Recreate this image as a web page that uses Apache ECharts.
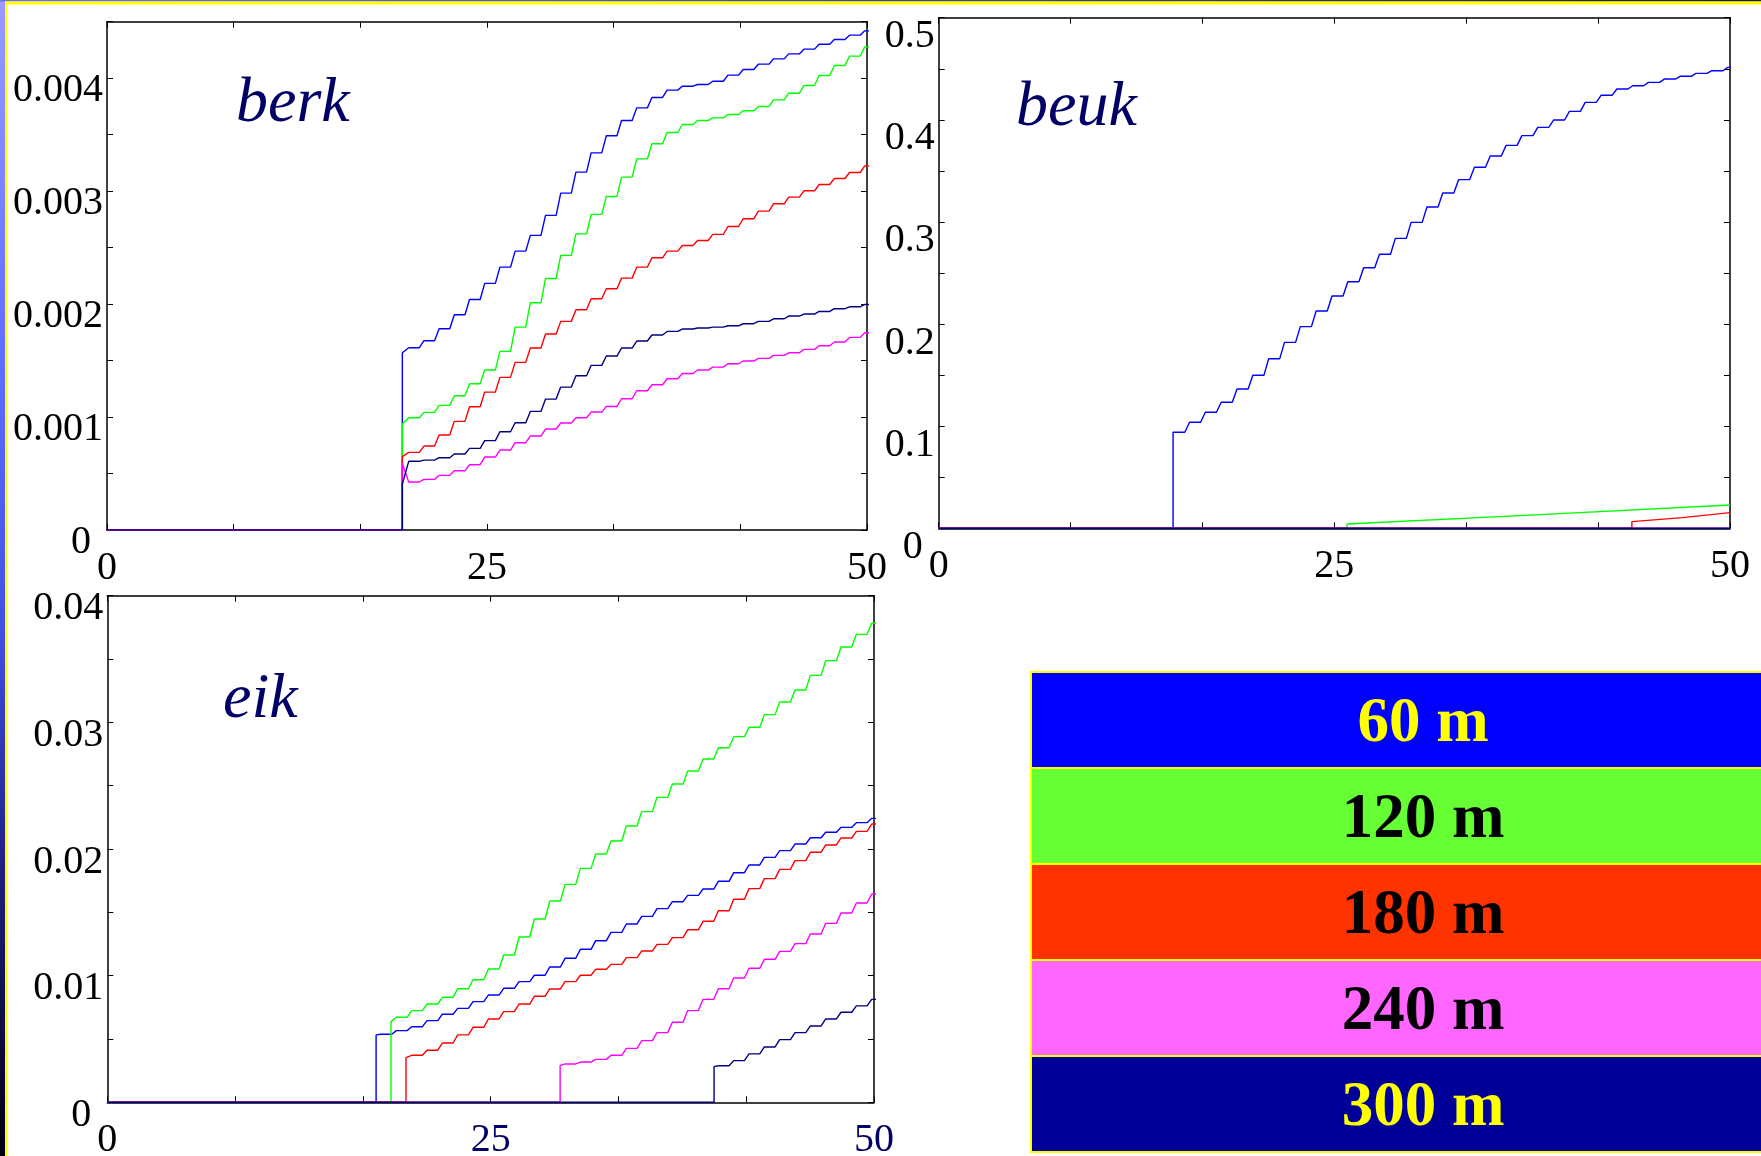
<!DOCTYPE html>
<html><head><meta charset="utf-8">
<script src="https://cdn.jsdelivr.net/npm/echarts/dist/echarts.min.js"></script>
<style>html,body{margin:0;padding:0;background:#fff;}#c{width:1761px;height:1156px;}</style>
</head><body><div id="c"></div>
<script>
// ---------- DATA ----------
const seriesNames = ['60 m', '120 m', '180 m', '240 m', '300 m'];
const lineColors = ['#0000ff', '#00ff00', '#ff0000', '#ff00ff', '#000080'];
const legendFills = ['#0000ff', '#66ff33', '#ff3300', '#ff66ff', '#000099'];
const legendTextColors = ['#ffff00', '#000000', '#000000', '#000000', '#ffff00'];
const panelNames = ['berk', 'beuk', 'eik'];
const xTickLabels = [0, 25, 50];

// berk: yearly levels, years 20..50
const berkFirstYear = [20, 20, 20, 20, 20];
const berkJumpX = [19.43, 19.43, 19.43, 19.43, 19.43];
const berkJumpTop = [0.001569, 0.000938, 0.000649, 0.000590, 0.000407];
const berk60 = [0.001614,0.001676,0.001782,0.001906,0.002041,0.002183,0.002327,0.002469,0.002608,0.002785,0.002982,0.003168,0.003339,0.003490,0.003625,0.003737,0.003829,0.003894,0.003929,0.003944,0.003973,0.004027,0.004077,0.004124,0.004171,0.004215,0.004257,0.004301,0.004342,0.004381,0.004419];
const berk120 = [0.000994,0.001041,0.001103,0.001189,0.001295,0.001416,0.001581,0.001796,0.002012,0.002227,0.002431,0.002622,0.002794,0.002953,0.003124,0.003286,0.003419,0.003519,0.003590,0.003625,0.003649,0.003678,0.003711,0.003749,0.003808,0.003867,0.003935,0.004024,0.004112,0.004195,0.004277];
const berk180 = [0.000687,0.000743,0.000841,0.000962,0.001091,0.001221,0.001351,0.001484,0.001611,0.001735,0.001847,0.001950,0.002047,0.002136,0.002230,0.002327,0.002410,0.002469,0.002519,0.002563,0.002617,0.002687,0.002755,0.002823,0.002888,0.002947,0.003003,0.003059,0.003112,0.003165,0.003224];
const berk240 = [0.000425,0.000448,0.000484,0.000525,0.000578,0.000646,0.000708,0.000773,0.000832,0.000894,0.000947,0.000994,0.001044,0.001094,0.001162,0.001233,0.001286,0.001339,0.001386,0.001416,0.001442,0.001472,0.001496,0.001519,0.001546,0.001569,0.001599,0.001631,0.001664,0.001705,0.001746];
const berk300 = [0.000608,0.000619,0.000640,0.000673,0.000723,0.000791,0.000870,0.000950,0.001050,0.001159,0.001265,0.001366,0.001457,0.001540,0.001611,0.001673,0.001726,0.001758,0.001779,0.001788,0.001796,0.001808,0.001826,0.001847,0.001870,0.001894,0.001912,0.001935,0.001959,0.001976,0.001997];

// beuk: 60 m yearly levels, years 15..50; 120 m / 180 m nearly straight lines
const beukFirstYear60 = 15;
const beukJumpX60 = 14.81;
const beuk60 = [0.0940,0.1038,0.1136,0.1234,0.1364,0.1498,0.1661,0.1821,0.1975,0.2128,0.2275,0.2415,0.2552,0.2683,0.2839,0.2996,0.3146,0.3283,0.3414,0.3535,0.3646,0.3750,0.3845,0.3926,0.3998,0.4083,0.4171,0.4240,0.4302,0.4334,0.4367,0.4399,0.4426,0.4455,0.4481,0.4514];
const beuk120X = [25.8, 38, 50];
const beuk120Y = [0.0042, 0.0134, 0.0228];
const beuk180X = [43.8, 47, 50];
const beuk180Y = [0.0065, 0.0105, 0.0153];
const beuk240X = [50];
const beuk240Y = [0];
const beuk300X = [50];
const beuk300Y = [0];

// eik: yearly levels
const eikFirstYear = [18, 19, 20, 30, 40];
const eikJumpX = [17.53, 18.5, 19.48, 29.53, 39.57];
const eikJumpTop = [0.00532, 0.00637, 0.00353, 0.00289, 0.00282];
const eik60 = [0.00537,0.00566,0.00597,0.00645,0.00695,0.00742,0.00795,0.00847,0.00900,0.00953,0.01003,0.01068,0.01137,0.01208,0.01276,0.01342,0.01408,0.01468,0.01529,0.01584,0.01634,0.01684,0.01745,0.01813,0.01874,0.01934,0.01987,0.02039,0.02089,0.02132,0.02171,0.02208,0.02242];
const eik120 = [0.00671,0.00724,0.00776,0.00829,0.00897,0.00968,0.01053,0.01163,0.01305,0.01447,0.01589,0.01721,0.01847,0.01961,0.02063,0.02182,0.02295,0.02408,0.02513,0.02616,0.02711,0.02800,0.02887,0.02961,0.03061,0.03161,0.03255,0.03371,0.03487,0.03595,0.03695,0.03782];
const eik180 = [0.00371,0.00411,0.00468,0.00532,0.00592,0.00658,0.00716,0.00776,0.00837,0.00895,0.00953,0.01003,0.01050,0.01089,0.01142,0.01195,0.01247,0.01300,0.01363,0.01429,0.01513,0.01603,0.01687,0.01766,0.01839,0.01908,0.01974,0.02032,0.02087,0.02139,0.02197];
const eik240 = [0.00303,0.00318,0.00339,0.00371,0.00426,0.00487,0.00550,0.00632,0.00724,0.00813,0.00897,0.00982,0.01058,0.01129,0.01192,0.01253,0.01329,0.01413,0.01495,0.01574,0.01645];
const eik300 = [0.00289,0.00329,0.00382,0.00437,0.00495,0.00550,0.00603,0.00658,0.00711,0.00761,0.00813];

// y axes
const yMax = [0.0045, 0.5, 0.04];
const yMinor = [0.0005, 0.05, 0.005];
const yMajor = [0.001, 0.1, 0.01];
const yDecimals = [3, 1, 2];

// ---------- BUILD ----------
function steps(jx, jt, fy, lv) {
  const p = [[0, 0], [jx, 0], [jx, jt]];
  for (let i = 0; i < lv.length; i++) {
    p.push([fy + i - 0.15, lv[i]]);
    p.push([fy + i + 0.55, lv[i]]);
  }
  return p;
}
function poly(xs, ys) {
  const p = [[0, 0], [xs[0], 0]];
  for (let i = 0; i < xs.length; i++) p.push([xs[i], ys[i]]);
  return p;
}
const panelData = [
  [berk60, berk120, berk180, berk240, berk300].map((lv, i) => steps(berkJumpX[i], berkJumpTop[i], berkFirstYear[i], lv)),
  [steps(beukJumpX60, beuk60[0], beukFirstYear60, beuk60), poly(beuk120X, beuk120Y), poly(beuk180X, beuk180Y), poly(beuk240X, beuk240Y), poly(beuk300X, beuk300Y)],
  [eik60, eik120, eik180, eik240, eik300].map((lv, i) => steps(eikJumpX[i], eikJumpTop[i], eikFirstYear[i], lv))
];

const grids = [
  {left: 107, top: 21.7, width: 760, height: 508.3},
  {left: 938.7, top: 17.7, width: 791.3, height: 510.6},
  {left: 107.3, top: 595.7, width: 766.7, height: 506.6}
];
const yLabelPad = [25, 38, 26];
const titlePos = [{left: 236, top: 72}, {left: 1016, top: 76}, {left: 223, top: 668}];
const FONT = 'Liberation Serif';

const xAxis = [], yAxis = [], series = [], title = [];
grids.forEach((g, p) => {
  const axLine = {show: true, onZero: false, lineStyle: {color: '#000', width: 1.5}};
  const axTick = {show: true, inside: true, length: 6, lineStyle: {color: '#000', width: 1}};
  const xfmt = v => {
    const r = Math.round(v);
    if (Math.abs(v - r) > 1e-6) return '';
    return xTickLabels.indexOf(r) >= 0 ? String(r) : '';
  };
  xAxis.push({gridIndex: p, type: 'value', min: 0, max: 50, interval: 50 / 6, position: 'bottom',
    axisLine: axLine, axisTick: axTick, splitLine: {show: false},
    axisLabel: {show: true, margin: 18, fontSize: 40, fontFamily: FONT, showMinLabel: true, showMaxLabel: true, hideOverlap: false,
      color: p === 2 ? (v => (v > 1 ? '#000066' : '#000000')) : '#000000', formatter: xfmt}});
  xAxis.push({gridIndex: p, type: 'value', min: 0, max: 50, interval: 50 / 6, position: 'top',
    axisLine: axLine, axisTick: axTick, splitLine: {show: false}, axisLabel: {show: false}});
  const maj = yMajor[p], dec = yDecimals[p];
  const yfmt = v => {
    const k = Math.round(v / maj);
    if (Math.abs(v - k * maj) > maj * 1e-6) return '';
    if (k === 0) return '{z|0}';
    return (k * maj).toFixed(dec);
  };
  yAxis.push({gridIndex: p, type: 'value', min: 0, max: yMax[p], interval: yMinor[p], position: 'left',
    axisLine: axLine, axisTick: axTick, splitLine: {show: false},
    axisLabel: {show: true, margin: 4, fontSize: 40, fontFamily: FONT, color: '#000', showMinLabel: true, showMaxLabel: true, hideOverlap: false,
      padding: [yLabelPad[p], 0, 0, 0], formatter: yfmt,
      rich: {z: {fontSize: 40, fontFamily: FONT, color: '#000', padding: [0, 12, 0, 0]}}}});
  yAxis.push({gridIndex: p, type: 'value', min: 0, max: yMax[p], interval: yMinor[p], position: 'right',
    axisLine: axLine, axisTick: axTick, splitLine: {show: false}, axisLabel: {show: false}});
  panelData[p].forEach((d, i) => {
    series.push({type: 'line', name: seriesNames[i], xAxisIndex: 2 * p, yAxisIndex: 2 * p, data: d,
      showSymbol: false, symbol: 'none', clip: true, animation: false,
      lineStyle: {color: lineColors[i], width: 1.4}, itemStyle: {color: lineColors[i]}});
  });
  title.push({text: panelNames[p], left: titlePos[p].left, top: titlePos[p].top, padding: 0,
    textStyle: {fontFamily: FONT, fontStyle: 'italic', fontWeight: 'normal', fontSize: 64, color: '#000066'}});
});

// legend table + slide frame
const graphic = [
  {type: 'rect', shape: {x: 0, y: 0, width: 5, height: 1156}, z: 100,
    style: {fill: new echarts.graphic.LinearGradient(0, 0, 0, 1, [
      {offset: 0, color: '#9a9aff'}, {offset: 0.3, color: '#6070ff'}, {offset: 0.55, color: '#4050e0'},
      {offset: 0.75, color: '#202080'}, {offset: 1, color: '#000010'}])}},
  {type: 'rect', shape: {x: 0, y: 0, width: 1761, height: 1.5}, z: 100,
    style: {fill: new echarts.graphic.LinearGradient(0, 0, 1, 0, [
      {offset: 0, color: '#7070f0'}, {offset: 1, color: '#202020'}])}},
  {type: 'rect', shape: {x: 5, y: 1.5, width: 2, height: 1154.5}, z: 100, style: {fill: '#ffff00'}},
  {type: 'rect', shape: {x: 5, y: 1.5, width: 1756, height: 3}, z: 100, style: {fill: '#ffff00'}}
];
const legTop = 672, legRow = 96, legLeft = 1031;
seriesNames.forEach((nm, i) => {
  graphic.push({type: 'rect', shape: {x: legLeft, y: legTop + i * legRow, width: 800, height: legRow}, z: 50,
    style: {fill: legendFills[i], stroke: '#ffff00', lineWidth: 2}});
  graphic.push({type: 'text', x: 1423, y: legTop + i * legRow + legRow / 2 + 5, z: 51,
    style: {text: nm, fill: legendTextColors[i], font: 'bold 63px "Liberation Serif"', align: 'center', verticalAlign: 'middle', textAlign: 'center', textVerticalAlign: 'middle'}});
});

const chart = echarts.init(document.getElementById('c'), null, {renderer: 'canvas', width: 1761, height: 1156});
chart.setOption({
  animation: false,
  backgroundColor: '#ffffff',
  grid: grids.map(g => Object.assign({containLabel: false, outerBoundsMode: 'none', show: false}, g)),
  xAxis: xAxis, yAxis: yAxis, series: series, title: title, graphic: graphic,
  legend: {show: false}, tooltip: {show: false}
});
</script></body></html>
